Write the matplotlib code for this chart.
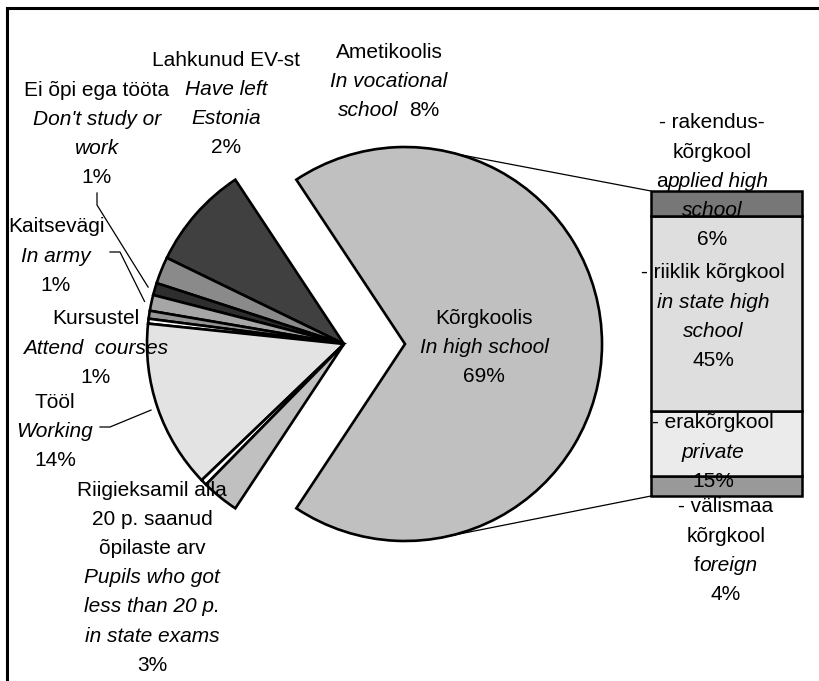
import numpy as np
import matplotlib
matplotlib.use("Agg")
import matplotlib.pyplot as plt
from matplotlib.patches import Rectangle

plt.rcParams["font.family"] = ["Liberation Sans", "DejaVu Sans"]

W, H = 820, 681
FS = 15
STEP = 29.2  # line step of the labels, px

# pie slices, counter-clockwise starting with the exploded one (share, %)
PIE_NAMES = [
    "Kõrgkoolis", "Ametikoolis", "Lahkunud EV-st", "Ei õpi ega tööta",
    "Kaitsevägi", "Kursustel", "(tühi)", "Tööl", "(tühi)", "Riigieksamil alla 20 p.",
]
PIE_VALUES = [68.6, 8.5, 2.2, 1.0, 1.3, 0.65, 0.4, 13.8, 0.5, 3.05]
PIE_COLORS = [
    "#c0c0c0", "#404040", "#8a8a8a", "#2e2e2e", "#a6a6a6",
    "#969696", "#ffffff", "#e3e3e3", "#ffffff", "#c0c0c0",
]

# bar of the "Kõrgkoolis" slice, bottom to top
BAR_NAMES = ["välismaa", "erakõrgkool", "riiklik", "rakendus"]
BAR_VALUES = [4.6, 14.9, 44.8, 5.7]
BAR_COLORS = ["#999999", "#ebebeb", "#dedede", "#777777"]

PIE_CENTER = (344, H - 344)
PIE_RADIUS = 197
EXPLODE = 61
BAR_X, BAR_W = 726.5, 151
BAR_BOTTOM = H - 496
BAR_SCALE = 305 / sum(BAR_VALUES)

fig = plt.figure(figsize=(W / 100, H / 100), dpi=100)
ax = fig.add_axes([0, 0, 1, 1])

explode = [EXPLODE] + [0] * (len(PIE_VALUES) - 1)
start = -180 * PIE_VALUES[0] / sum(PIE_VALUES)
wedges, _ = ax.pie(
    PIE_VALUES, colors=PIE_COLORS, explode=explode, startangle=start,
    counterclock=True, radius=PIE_RADIUS, center=PIE_CENTER,
    wedgeprops=dict(edgecolor="black", linewidth=1.9, joinstyle="miter"),
)

heights = np.array(BAR_VALUES) * BAR_SCALE
bottoms = BAR_BOTTOM + np.concatenate([[0], np.cumsum(heights)[:-1]])
ax.bar([BAR_X] * len(heights), heights, width=BAR_W, bottom=bottoms,
       color=BAR_COLORS, edgecolor="black", linewidth=1.8)

ax.set_xlim(0, W)
ax.set_ylim(0, H)
ax.set_aspect("auto")
ax.axis("off")

# connector lines from the big slice to the bar
big = wedges[0]
for ang, by in [(74.4, bottoms[-1] + heights[-1]), (-80.4, BAR_BOTTOM)]:
    px = big.center[0] + big.r * np.cos(np.radians(ang))
    py = big.center[1] + big.r * np.sin(np.radians(ang))
    ax.plot([px, BAR_X - BAR_W / 2], [py, by], color="black", lw=0.9)


def edge_point(w, extra=7):
    mid = np.radians((w.theta1 + w.theta2) / 2)
    return (w.center[0] + (w.r + extra) * np.cos(mid),
            w.center[1] + (w.r + extra) * np.sin(mid))


# leader lines (pixel coords for the label end)
for idx, pts in [(3, [(97, 193), (97, 205)]),
                 (4, [(110, 252), (120, 252)]),
                 (7, [(100, 427), (110, 427)])]:
    ex, ey = edge_point(wedges[idx])
    xs = [p[0] for p in pts] + [ex]
    ys = [H - p[1] for p in pts] + [ey]
    ax.plot(xs, ys, color="black", lw=0.9)

renderer = fig.canvas.get_renderer()


def line(x, py, runs, gap=0):
    texts = [ax.text(0, H - py, s, style=st, ha="left", va="center",
                     fontsize=FS, color="black") for s, st in runs]
    widths = [t.get_window_extent(renderer).width for t in texts]
    cur = x - (sum(widths) + gap * (len(runs) - 1)) / 2
    for t, w in zip(texts, widths):
        t.set_x(cur)
        cur += w + gap


def block(x, py, rows):
    for i, row in enumerate(rows):
        if isinstance(row, tuple):
            row = [row]
        gap = 11 if len(row) > 1 and row[0][1] == "italic" else 0
        line(x, py + i * STEP, row, gap)


N, I = "normal", "italic"
block(226, 60, [("Lahkunud EV-st", N), ("Have left", I), ("Estonia", I), ("2%", N)])
block(97, 90, [("Ei õpi ega tööta", N), ("Don't study or", I), ("work", I), ("1%", N)])
block(389, 52, [("Ametikoolis", N), ("In vocational", I), [("school", I), ("8%", N)]])
block(56, 227, [("Kaitsevägi", N), ("In army", I), ("1%", N)])
block(96, 319, [("Kursustel", N), ("Attend  courses", I), ("1%", N)])
block(55, 402, [("Tööl", N), ("Working", I), ("14%", N)])
block(152, 490, [("Riigieksamil alla", N), ("20 p. saanud", N), ("õpilaste arv", N),
                 ("Pupils who got", I), ("less than 20 p.", I), ("in state exams", I),
                 ("3%", N)])
block(484, 318, [("Kõrgkoolis", N), ("In high school", I), ("69%", N)])
block(712, 123, [("- rakendus-", N), ("kõrgkool", N), [("a", N), ("pplied high", I)],
                 ("school", I), ("6%", N)])
block(713, 273, [("- riiklik kõrgkool", N), ("in state high", I), ("school", I), ("45%", N)])
block(713, 423, [("- erakõrgkool", N), ("private", I), ("15%", N)])
block(726, 507, [("- välismaa", N), ("kõrgkool", N), [("f", N), ("oreign", I)], ("4%", N)])

# chart frame, cut at the right and bottom edge like the source
ax.add_patch(Rectangle((7, -50), 900, H - 8 + 50, fill=False,
                       edgecolor="black", linewidth=2.2))

fig.savefig("out.png", dpi=100)
